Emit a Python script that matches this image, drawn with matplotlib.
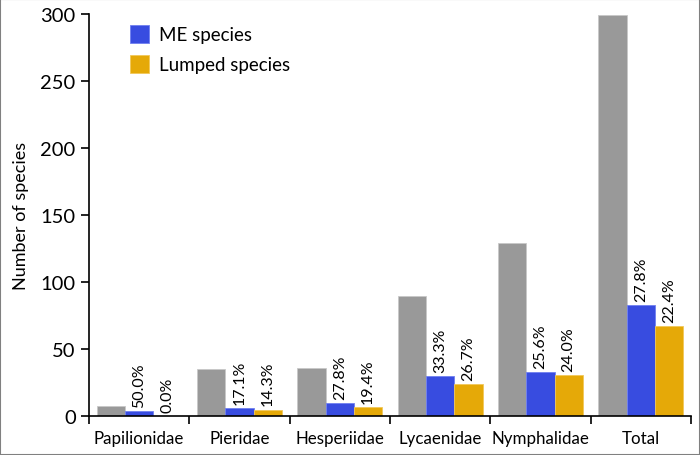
import matplotlib
matplotlib.use("Agg")
import matplotlib.pyplot as plt
import numpy as np

plt.rcParams['font.family'] = ['Lato', 'DejaVu Sans']

families = ["Papilionidae", "Pieridae", "Hesperiidae", "Lycaenidae", "Nymphalidae", "Total"]
all_species = [8, 35, 36, 90, 129, 299]
me_species = [4, 6, 10, 30, 33, 83]
lumped_species = [0, 5, 7, 24, 31, 67]

c_gray = "#999999"
c_blue = "#384ce0"
c_orange = "#e5a908"

fig = plt.figure(figsize=(7, 4.56), dpi=100)
ax = fig.add_axes([0.127, 0.085, 0.86, 0.882])

x = np.arange(len(families))
w = 0.282
ax.bar(x - w, all_species, w, color=c_gray, edgecolor="#c8c8c8", linewidth=0.6)
b1 = ax.bar(x, me_species, w, color=c_blue, edgecolor="#6f7ff0", linewidth=0.6, label="ME species")
b2 = ax.bar(x + w, lumped_species, w, color=c_orange, edgecolor="#f2c85a", linewidth=0.6, label="Lumped species")

# percentage labels above the blue and orange bars
for i in range(len(families)):
    for xx, v in ((x[i], me_species[i]), (x[i] + w, lumped_species[i])):
        pct = 100.0 * v / all_species[i]
        ax.annotate("%.1f%%" % pct, (xx, v), xytext=(0, 3), textcoords="offset points",
                    rotation=90, ha="center", va="bottom", fontsize=11.5)

ax.set_xlim(-0.5, len(families) - 0.5)
ax.set_ylim(0, 300)
ax.set_yticks(np.arange(0, 301, 50))
ax.set_xticks(x)
ax.set_xticklabels(families, fontsize=12.2)
ax.tick_params(axis="x", length=0, pad=10)
ax.set_xticks(np.arange(-0.5, len(families), 1), minor=True)
ax.tick_params(axis="x", which="minor", length=6, width=1.2, direction="out")
ax.tick_params(axis="y", labelsize=14.5, length=6, width=1.2, direction="out")
for s in ("top", "right"):
    ax.spines[s].set_visible(False)
for s in ("left", "bottom"):
    ax.spines[s].set_linewidth(1.2)
ax.set_ylabel("Number of species", fontsize=13, labelpad=8)

ax.legend(handles=[b1, b2], loc="upper left", bbox_to_anchor=(0.04, 1.015), frameon=False,
          fontsize=13.5, handlelength=1.0, handleheight=1.1, handletextpad=0.55, labelspacing=0.6)

# thin grey frame around the whole picture
fig.patches.append(plt.Rectangle((0, 0), 1, 1, transform=fig.transFigure, fill=False,
                                 edgecolor="#808080", linewidth=1.5))

fig.savefig("out.png", dpi=100)
